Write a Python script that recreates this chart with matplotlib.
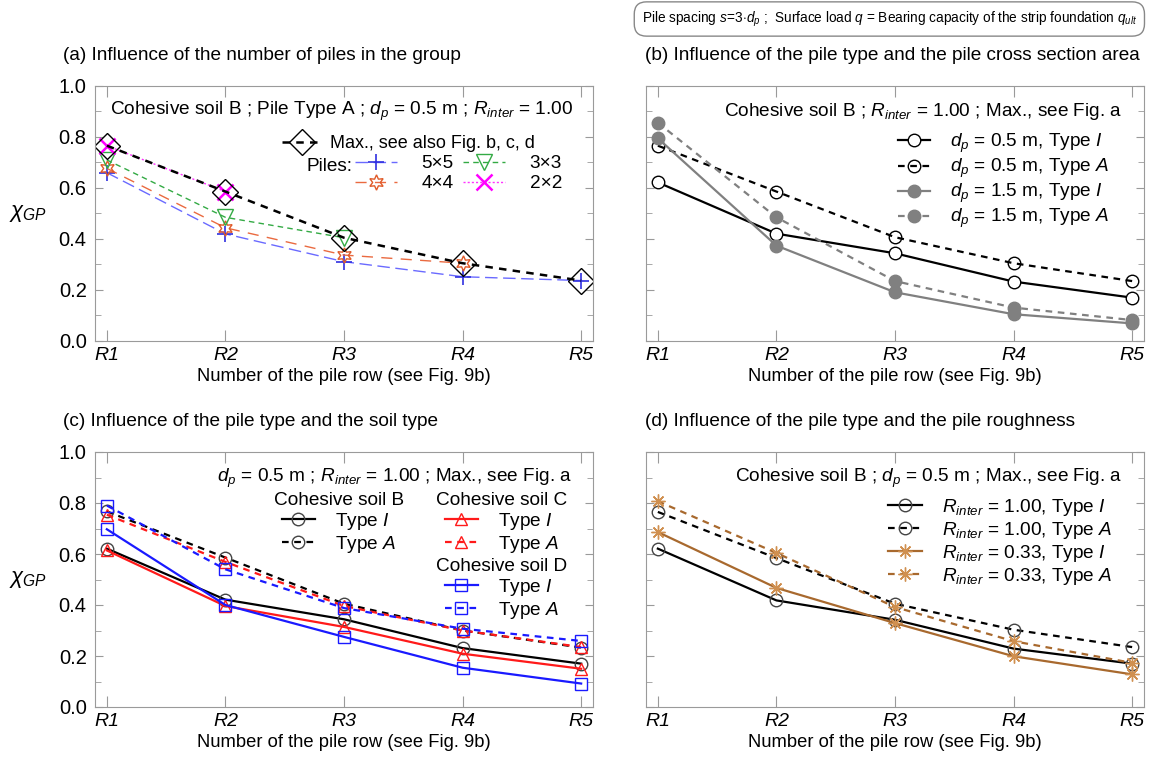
import matplotlib
matplotlib.use("Agg")
import matplotlib.pyplot as plt
from matplotlib.ticker import MultipleLocator, FormatStrFormatter

plt.rcParams['font.family'] = ['Liberation Sans', 'DejaVu Sans']
plt.rcParams['mathtext.fontset'] = 'custom'
plt.rcParams['mathtext.rm'] = 'Liberation Sans'
plt.rcParams['mathtext.it'] = 'Liberation Sans:italic'
plt.rcParams['mathtext.bf'] = 'Liberation Sans:bold'
plt.rcParams['font.size'] = 13.7

rows = ['R1', 'R2', 'R3', 'R4', 'R5']

# (a) number of piles in the group
max_env = [0.766, 0.586, 0.405, 0.305, 0.237]
piles_5x5 = [0.660, 0.420, 0.311, 0.252, 0.237]
piles_4x4 = [0.677, 0.444, 0.337, 0.305]
piles_3x3 = [0.710, 0.485, 0.405]
piles_2x2 = [0.766, 0.586]

# (b) pile type and cross section
b_05_I = [0.622, 0.421, 0.344, 0.233, 0.170]
b_05_A = [0.766, 0.586, 0.407, 0.305, 0.235]
b_15_I = [0.795, 0.374, 0.191, 0.105, 0.069]
b_15_A = [0.856, 0.485, 0.235, 0.131, 0.082]

# (c) pile type and soil type
c_B_I = [0.621, 0.421, 0.344, 0.231, 0.170]
c_B_A = [0.767, 0.586, 0.405, 0.300, 0.233]
c_C_I = [0.614, 0.396, 0.314, 0.209, 0.150]
c_C_A = [0.754, 0.569, 0.396, 0.300, 0.235]
c_D_I = [0.697, 0.400, 0.275, 0.154, 0.092]
c_D_A = [0.790, 0.540, 0.388, 0.307, 0.259]

# (d) pile type and roughness
d_100_I = [0.621, 0.418, 0.342, 0.229, 0.170]
d_100_A = [0.765, 0.584, 0.405, 0.303, 0.235]
d_033_I = [0.686, 0.467, 0.329, 0.199, 0.128]
d_033_A = [0.807, 0.604, 0.392, 0.258, 0.173]

GRAY = '#808080'
BROWN = '#a8692e'
TICKC = '#9a9a9a'

fig = plt.figure(figsize=(11.51, 7.62), dpi=100)
W, H = 1151, 762


def make_axes(x0, y_bottom_px):
    return fig.add_axes([x0 / W, (H - y_bottom_px) / H, 498 / W, 255 / H])


ax_a = make_axes(95, 341)
ax_b = make_axes(646, 341)
ax_c = make_axes(95, 707)
ax_d = make_axes(646, 707)


def style(ax, left):
    ax.set_xlim(-0.1, 4.1)
    ax.set_ylim(0, 1)
    ax.set_xticks(range(5))
    ax.set_xticklabels(rows, fontstyle='italic', fontsize=14)
    ax.yaxis.set_major_locator(MultipleLocator(0.2))
    ax.yaxis.set_minor_locator(MultipleLocator(0.1))
    ax.yaxis.set_major_formatter(FormatStrFormatter('%.1f'))
    ax.tick_params(which='both', direction='in', top=True, right=True, color=TICKC)
    ax.tick_params(axis='x', length=8, pad=4)
    ax.tick_params(axis='y', which='major', length=6, pad=6, labelsize=14.5)
    ax.tick_params(axis='y', which='minor', length=4)
    for s in ax.spines.values():
        s.set_color(TICKC)
    ax.set_xlabel('Number of the pile row (see Fig. 9b)', labelpad=3, fontsize=13.2)
    if left:
        ax.set_ylabel(r'$\chi_{GP}$', rotation=0, fontsize=16, va='center', ha='center')
        ax.yaxis.set_label_coords(-0.135, 0.5)
    else:
        ax.tick_params(axis='y', labelleft=False)


for ax, left in [(ax_a, True), (ax_b, False), (ax_c, True), (ax_d, False)]:
    style(ax, left)

x = range(5)
dash_a = (3, 2.5)

# ---------------- (a)
l5, = ax_a.plot(range(len(piles_5x5)), piles_5x5, color='#6a6aff', lw=1, dashes=(9, 4),
                marker='+', ms=12, mec='#3030e0', mew=1.2)
l4, = ax_a.plot(range(len(piles_4x4)), piles_4x4, color='#ea6a40', lw=1, dashes=(8, 6),
                marker=(6, 1, 0), ms=11, mfc='none', mec='#e05a28', mew=1)
l3, = ax_a.plot(range(len(piles_3x3)), piles_3x3, color='#33aa44', lw=1, dashes=(4, 3),
                marker='v', ms=11, mfc='none', mec='#33aa44', mew=1)
l2, = ax_a.plot(range(len(piles_2x2)), piles_2x2, color='#ff33ff', lw=1, dashes=(1.5, 1.5),
                marker='x', ms=12, mec='#ff00ff', mew=1.8)
lmax, = ax_a.plot(x, max_env, color='black', lw=1.8, dashes=dash_a,
                  marker='D', ms=13, mfc='none', mec='black', mew=1)

ax_a.text(0.96, 0.90, r'Cohesive soil B ; Pile Type A ; $d_p$ = 0.5 m ; $R_{inter}$ = 1.00',
          transform=ax_a.transAxes, ha='right', va='center')
leg = ax_a.legend([lmax], ['Max., see also Fig. b, c, d'], loc='upper left',
                  bbox_to_anchor=(0.375, 0.808), frameon=False, borderpad=0, borderaxespad=0,
                  handlelength=2.25, handletextpad=0.4, fontsize=13)
ax_a.add_artist(leg)
ax_a.text(0.518, 0.686, 'Piles:', transform=ax_a.transAxes, ha='right', va='center')
ax_a.legend([l5, l4, l3, l2], ['5×5', '4×4', '3×3', '2×2'], ncol=2, loc='upper left',
            bbox_to_anchor=(0.522, 0.73), frameon=False, borderpad=0, borderaxespad=0,
            handlelength=2.2, handletextpad=1.3, columnspacing=0.5, labelspacing=0.15)

# ---------------- (b)
hb1, = ax_b.plot(x, b_05_I, color='black', lw=1.6, marker='o', ms=9, mfc='white', mec='black', mew=1)
hb2, = ax_b.plot(x, b_05_A, color='black', lw=1.6, dashes=dash_a, marker='o', ms=9,
                 mfc='none', mec='black', mew=1)
hb3, = ax_b.plot(x, b_15_I, color=GRAY, lw=1.6, marker='o', ms=9, mfc=GRAY, mec=GRAY)
hb4, = ax_b.plot(x, b_15_A, color=GRAY, lw=1.6, dashes=dash_a, marker='o', ms=9, mfc=GRAY, mec=GRAY)
ax_b.text(0.956, 0.90, r'Cohesive soil B ; $R_{inter}$ = 1.00 ; Max., see Fig. a',
          transform=ax_b.transAxes, ha='right', va='center')
ax_b.legend([hb1, hb2, hb3, hb4],
            [r'$d_p$ = 0.5 m, Type $I$', r'$d_p$ = 0.5 m, Type $A$',
             r'$d_p$ = 1.5 m, Type $I$', r'$d_p$ = 1.5 m, Type $A$'],
            loc='upper left', bbox_to_anchor=(0.506, 0.82), frameon=False, borderpad=0,
            borderaxespad=0, handlelength=1.7, handletextpad=1.05, labelspacing=0.1)

# ---------------- (c)
hc1, = ax_c.plot(x, c_B_I, color='black', lw=1.6, marker='o', ms=9, mfc='none', mec='#444444', mew=1)
hc2, = ax_c.plot(x, c_B_A, color='black', lw=1.6, dashes=dash_a, marker='o', ms=9,
                 mfc='none', mec='#444444', mew=1)
hc3, = ax_c.plot(x, c_C_I, color='#ff1a1a', lw=1.6, marker='^', ms=9, mfc='none', mec='#ff1a1a', mew=1)
hc4, = ax_c.plot(x, c_C_A, color='#ff1a1a', lw=1.6, dashes=dash_a, marker='^', ms=9,
                 mfc='none', mec='#ff1a1a', mew=1)
hc5, = ax_c.plot(x, c_D_I, color='#1a1aff', lw=1.6, marker='s', ms=9, mfc='none', mec='#1a1aff', mew=1)
hc6, = ax_c.plot(x, c_D_A, color='#1a1aff', lw=1.6, dashes=dash_a, marker='s', ms=9,
                 mfc='none', mec='#1a1aff', mew=1)
ax_c.text(0.958, 0.895, r'$d_p$ = 0.5 m ; $R_{inter}$ = 1.00 ; Max., see Fig. a',
          transform=ax_c.transAxes, ha='right', va='center')
kw = dict(frameon=False, borderpad=0, borderaxespad=0, handlelength=1.75, handletextpad=1.05,
          labelspacing=0.1, title_fontsize=13.7, loc='upper center')
lab = [r'Type $I$', r'Type $A$']
legB = ax_c.legend([hc1, hc2], lab, title='Cohesive soil B', bbox_to_anchor=(0.49, 0.843), **kw)
ax_c.add_artist(legB)
legC = ax_c.legend([hc3, hc4], lab, title='Cohesive soil C', bbox_to_anchor=(0.817, 0.843), **kw)
ax_c.add_artist(legC)
ax_c.legend([hc5, hc6], lab, title='Cohesive soil D', bbox_to_anchor=(0.817, 0.584), **kw)

# ---------------- (d)
hd1, = ax_d.plot(x, d_100_I, color='black', lw=1.6, marker='o', ms=9, mfc='none', mec='#444444', mew=1)
hd2, = ax_d.plot(x, d_100_A, color='black', lw=1.6, dashes=dash_a, marker='o', ms=9,
                 mfc='none', mec='#444444', mew=1)
hd3, = ax_d.plot(x, d_033_I, color=BROWN, lw=1.6, marker=(8, 2, 0), ms=10, mec='#d09050', mew=1)
hd4, = ax_d.plot(x, d_033_A, color=BROWN, lw=1.6, dashes=dash_a, marker=(8, 2, 0), ms=10,
                 mec='#d09050', mew=1)
ax_d.text(0.956, 0.895, r'Cohesive soil B ; $d_p$ = 0.5 m ; Max., see Fig. a',
          transform=ax_d.transAxes, ha='right', va='center')
ax_d.legend([hd1, hd2, hd3, hd4],
            [r'$R_{inter}$ = 1.00, Type $I$', r'$R_{inter}$ = 1.00, Type $A$',
             r'$R_{inter}$ = 0.33, Type $I$', r'$R_{inter}$ = 0.33, Type $A$'],
            loc='upper left', bbox_to_anchor=(0.486, 0.824), frameon=False, borderpad=0,
            borderaxespad=0, handlelength=1.8, handletextpad=1.05, labelspacing=0.1)

# titles
titles = [(ax_a, -0.064, '(a) Influence of the number of piles in the group'),
          (ax_b, -0.002, '(b) Influence of the pile type and the pile cross section area'),
          (ax_c, -0.064, '(c) Influence of the pile type and the soil type'),
          (ax_d, -0.002, '(d) Influence of the pile type and the pile roughness')]
for ax, xx, t in titles:
    ax.text(xx, 1.12, t, transform=ax.transAxes, ha='left', va='center', fontsize=13.7)

fig.text(1137 / W, 1 - 19 / H,
         r'Pile spacing $s\!=\!3{\cdot}d_p$ ;  Surface load $q$ = Bearing capacity of the strip foundation $q_{ult}$',
         ha='right', va='center', fontsize=9.8,
         bbox=dict(boxstyle='round,pad=0.55,rounding_size=0.9', fc='white', ec='#888888', lw=1))

fig.savefig('out.png', dpi=100)
